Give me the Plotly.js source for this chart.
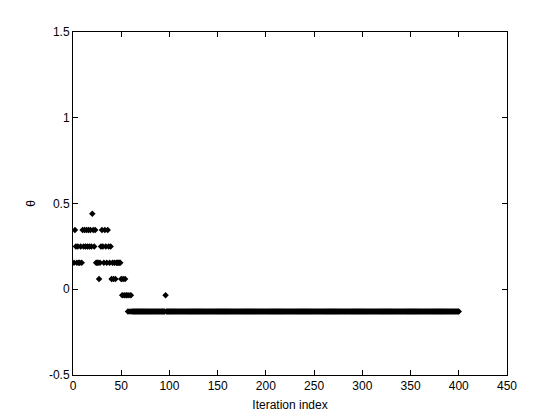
<!DOCTYPE html>
<html>
<head>
<meta charset="utf-8">
<script src="https://cdn.plot.ly/plotly-3.0.1.min.js"></script>
<style>html,body{margin:0;padding:0;background:#fff;}#chart{width:560px;height:420px;}</style>
</head>
<body>
<div id="chart"></div>
<script>
// Theta values for iterations 1..60
const thetaHead = [
  0.155, 0.345, 0.25, 0.155, 0.25, 0.155, 0.155, 0.25, 0.155, 0.345,
  0.25, 0.345, 0.25, 0.345, 0.25, 0.345, 0.25, 0.345, 0.25, 0.44,
  0.345, 0.25, 0.345, 0.155, 0.155, 0.155, 0.06, 0.155, 0.25, 0.345,
  0.25, 0.155, 0.345, 0.25, 0.155, 0.345, 0.25, 0.155, 0.25, 0.06,
  0.155, 0.06, 0.155, 0.06, 0.155, 0.155, 0.155, 0.155, 0.155, 0.06,
  -0.035, 0.06, -0.035, 0.06, -0.035, -0.035, -0.13, -0.035, -0.13, -0.035
];
// Remaining iterations 61..400 as runs of constant value
const tailRunValues = [-0.13, -0.035, -0.13];
const tailRunLengths = [35, 1, 304];

const xTickVals = [0, 50, 100, 150, 200, 250, 300, 350, 400, 450];
const yTickVals = [-0.5, 0, 0.5, 1, 1.5];
const yTickText = ['-0.5', '0', '0.5', '1', '1.5'];

const theta = thetaHead.slice();
tailRunValues.forEach((v, i) => { for (let k = 0; k < tailRunLengths[i]; k++) theta.push(v); });
const iterations = theta.map((_, i) => i + 1);

const font = {family: 'Liberation Sans, Arial, Helvetica, sans-serif', size: 12, color: '#000'};

const trace = {
  x: iterations, y: theta, type: 'scatter', mode: 'markers',
  marker: {symbol: 'diamond', size: 5, color: '#000', line: {width: 0}},
  hoverinfo: 'skip'
};

const axisCommon = {
  showgrid: false, zeroline: false, showline: true, linecolor: '#000', linewidth: 1,
  mirror: 'ticks', ticks: 'inside', ticklen: 5, tickcolor: '#000', tickwidth: 1,
  tickfont: font
};

const layout = {
  width: 560, height: 420,
  margin: {l: 73, r: 53, t: 32, b: 45, pad: 0},
  paper_bgcolor: '#fff', plot_bgcolor: '#fff',
  showlegend: false, font: font,
  xaxis: Object.assign({}, axisCommon, {
    range: [0, 450], tickvals: xTickVals, ticktext: xTickVals.map(String),
    title: {text: 'Iteration index', font: font, standoff: 8}
  }),
  yaxis: Object.assign({}, axisCommon, {
    range: [-0.5, 1.5], tickvals: yTickVals, ticktext: yTickText,
    title: {text: 'θ', font: font, standoff: 10}
  })
};

Plotly.newPlot('chart', [trace], layout, {staticPlot: true, displayModeBar: false});
</script>
</body>
</html>
